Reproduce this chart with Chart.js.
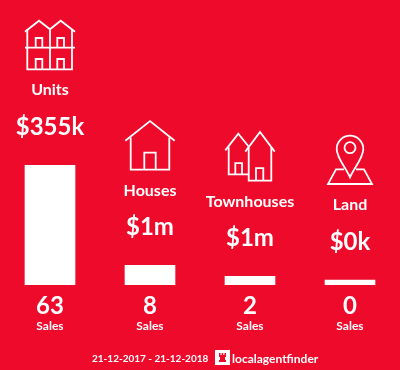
<!DOCTYPE html>
<html lang="en">
<head>
  <meta charset="UTF-8">
  <title>Sales by property type</title>
  <script src="https://cdn.jsdelivr.net/npm/chart.js"></script>
  <style>
    html, body { margin: 0; padding: 0; background: #ee0a2b; }
    canvas { display: block; }
  </style>
</head>
<body>
  <canvas id="salesChart" width="400" height="370" role="img" aria-label="Sales by property type"></canvas>

  <script>
    const categories = ['Units', 'Houses', 'Townhouses', 'Land'];
    const prices = ['$355k', '$1m', '$1m', '$0k'];
    const sales = [63, 8, 2, 0];
    const salesLabel = 'Sales';
    const dateRange = '21-12-2017 - 21-12-2018';
    const brand = 'localagentfinder';

    // the original keeps a stub for zero sales, so the axis starts below zero
    const axisMin = -2.74;
    const axisMax = 63;

    const RED = '#ee0a2b';
    const WHITE = '#ffffff';

    function line(ctx, pts) {
      ctx.beginPath();
      pts.forEach((p, i) => i ? ctx.lineTo(p[0], p[1]) : ctx.moveTo(p[0], p[1]));
      ctx.stroke();
    }

    // icons are drawn around (0,0) = bottom centre of a 50px box
    const icons = {
      Units(ctx) {
        line(ctx, [[-25, -38.3], [-11, -49.3], [0, -40.7], [10.7, -49.3], [25, -38.3]]);
        line(ctx, [[-22.7, -41], [-22.7, -0.7], [22, -0.7], [22, -41]]);
        line(ctx, [[0, -40.7], [0, -0.7]]);
        line(ctx, [[-25, -22.3], [25, -22.3]]);
        line(ctx, [[-14.3, -22.3], [-14.3, -32], [-7.7, -32], [-7.7, -22.3]]);
        line(ctx, [[7.3, -22.3], [7.3, -32], [14, -32], [14, -22.3]]);
        line(ctx, [[-14.3, -0.7], [-14.3, -11], [-7.7, -11], [-7.7, -0.7]]);
        line(ctx, [[7.3, -0.7], [7.3, -11], [14, -11], [14, -0.7]]);
      },
      Houses(ctx) {
        line(ctx, [[-24.7, -29.7], [0, -49.3], [24.7, -29.7]]);
        line(ctx, [[-19.3, -33], [-19.3, -0.7], [19.3, -0.7], [19.3, -33]]);
        line(ctx, [[-5.7, -0.7], [-5.7, -17.7], [5.7, -17.7], [5.7, -0.7]]);
      },
      Townhouses(ctx) {
        line(ctx, [[-24.7, -31], [-11.7, -47.7], [-1, -34.3]]);
        line(ctx, [[-21.3, -34], [-21.3, -7], [-1.7, -7]]);
        line(ctx, [[-4.7, -29.7], [10, -49.3], [24.7, -29.7]]);
        line(ctx, [[-1.3, -34], [-1.3, -0.7], [21.3, -0.7], [21.3, -34]]);
        line(ctx, [[-14.7, -7], [-14.7, -18.3], [-8, -18.3], [-8, -7]]);
        line(ctx, [[6, -0.7], [6, -13.3], [13.3, -13.3], [13.3, -0.7]]);
      },
      Land(ctx) {
        ctx.beginPath();
        ctx.moveTo(0, -7.7);
        ctx.bezierCurveTo(-4, -17, -13.3, -27, -13.3, -36);
        ctx.arc(0, -36, 13.3, Math.PI, 0);
        ctx.bezierCurveTo(13.3, -27, 4, -17, 0, -7.7);
        ctx.closePath();
        ctx.stroke();
        ctx.beginPath();
        ctx.arc(0, -37.3, 5.5, 0, Math.PI * 2);
        ctx.stroke();
        line(ctx, [[-6, -15.7], [-14, -15.7], [-22, -1], [22, -1], [14, -15.7], [6, -15.7]]);
      }
    };

    function drawLogo(ctx) {
      ctx.fillStyle = WHITE;
      ctx.fillRect(215, 350, 15, 15);
      // little rook inside the square
      ctx.fillStyle = RED;
      ctx.fillRect(219, 353, 1.5, 2);
      ctx.fillRect(221.7, 353, 1.5, 2);
      ctx.fillRect(224.5, 353, 1.5, 2);
      ctx.fillRect(219, 355, 7, 2);
      ctx.fillRect(220, 357, 5, 3);
      ctx.fillRect(219, 360, 7, 2);
    }

    const labelsPlugin = {
      id: 'labels',
      afterDatasetsDraw(chart) {
        const ctx = chart.ctx;
        const bars = chart.getDatasetMeta(0).data;
        const bottom = chart.scales.y.getPixelForValue(axisMin);

        ctx.save();
        ctx.textAlign = 'center';
        ctx.textBaseline = 'middle';
        ctx.fillStyle = WHITE;
        ctx.strokeStyle = WHITE;
        ctx.lineWidth = 1.8;

        categories.forEach((name, i) => {
          const x = bars[i].x;
          const top = bars[i].y;

          ctx.save();
          ctx.translate(x, top - 95);
          icons[name](ctx);
          ctx.restore();

          ctx.font = 'bold 16px Lato';
          ctx.fillText(name, x, top - 75);
          ctx.font = 'bold 24px Lato';
          ctx.fillText(prices[i], x, top - 38);
          ctx.fillText(String(sales[i]), x, bottom + 21);
          ctx.font = 'bold 12px Lato';
          ctx.fillText(salesLabel, x, bottom + 41);
        });

        ctx.font = 'bold 10px Lato';
        ctx.textAlign = 'left';
        ctx.fillText(dateRange, 92, 359);
        ctx.font = 'bold 12px Lato';
        ctx.fillText(brand, 232, 359);
        drawLogo(ctx);
        ctx.restore();
      }
    };

    new Chart(document.getElementById('salesChart'), {
      type: 'bar',
      data: {
        labels: categories,
        datasets: [{
          data: sales,
          base: axisMin,
          backgroundColor: WHITE,
          barThickness: 50
        }]
      },
      options: {
        responsive: false,
        animation: false,
        layout: { padding: { top: 165, bottom: 85, left: 0, right: 0 } },
        plugins: { legend: { display: false }, tooltip: { enabled: false } },
        scales: {
          x: { display: false },
          y: { display: false, min: axisMin, max: axisMax }
        }
      },
      plugins: [labelsPlugin]
    });
  </script>
</body>
</html>
